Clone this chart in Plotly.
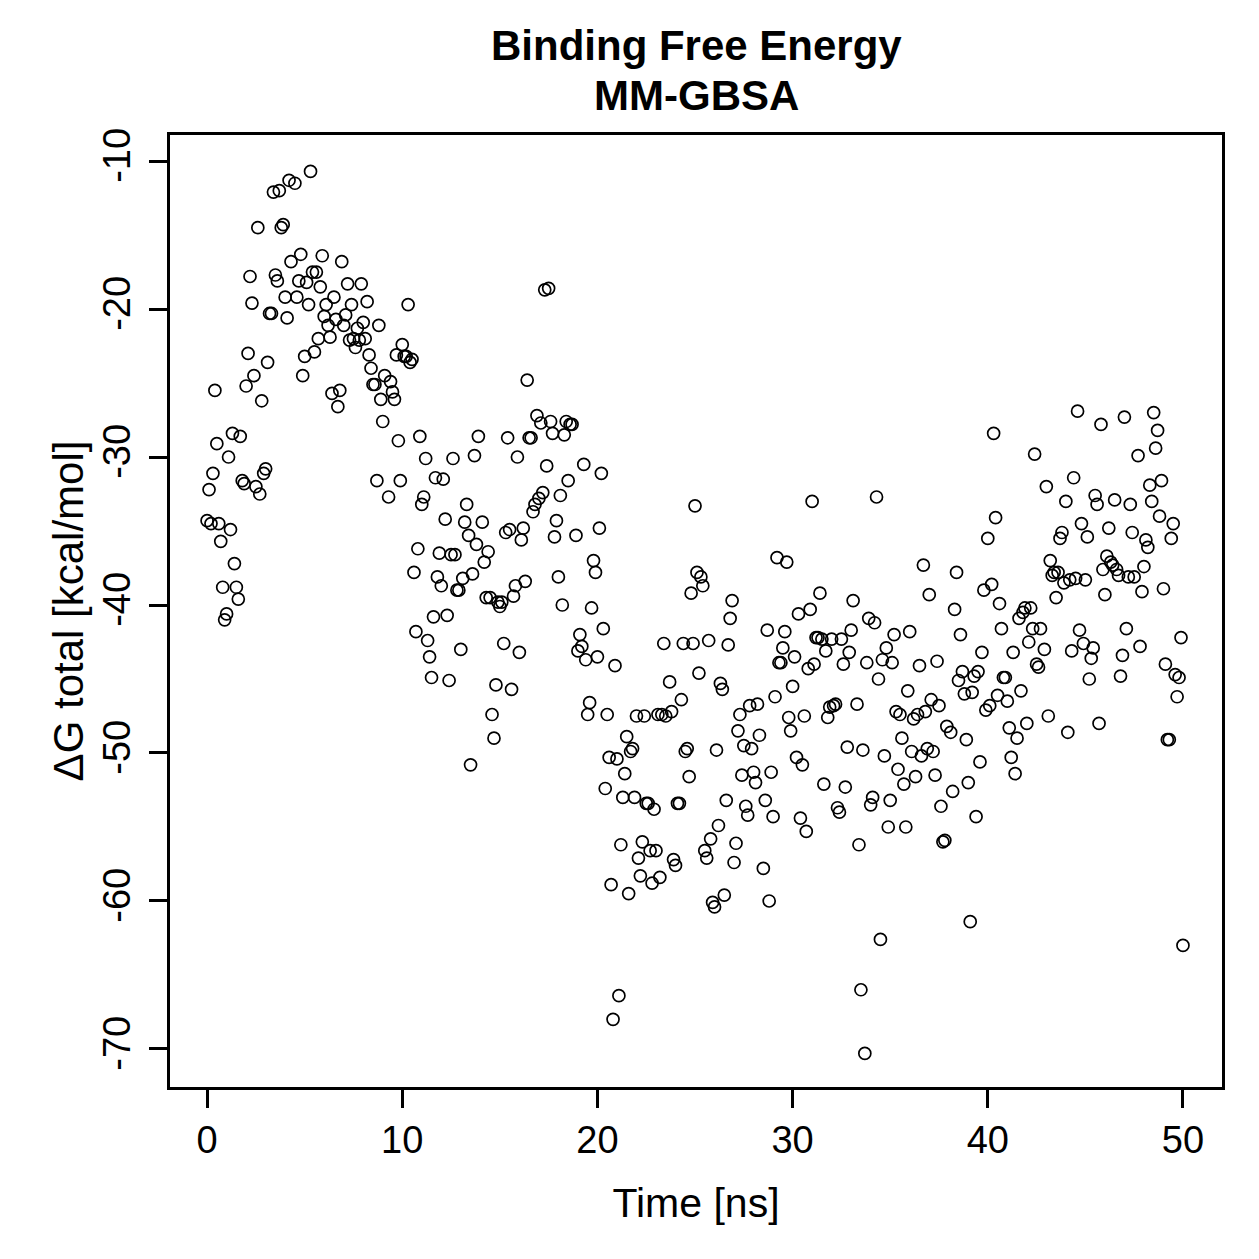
import plotly.graph_objects as go

time_ns = [
0.0,0.2,0.1,0.3,0.4,0.5,0.6,0.7,0.8,0.9,
1.0,1.1,1.2,1.3,1.4,1.5,1.6,1.7,1.8,1.9,
2.0,2.1,2.2,2.3,2.4,2.5,2.6,2.7,2.8,2.9,
3.0,3.1,3.2,3.3,3.4,3.5,3.6,3.7,3.8,3.9,
4.0,4.1,4.2,4.3,
4.5,4.6,4.7,4.8,4.9,5.0,5.1,5.2,5.3,5.4,5.5,5.6,5.7,5.8,5.9,
6.0,6.1,6.2,6.3,6.4,6.5,6.6,6.7,6.8,6.9,7.0,7.1,7.2,7.3,7.4,
7.5,7.6,7.7,7.8,7.9,8.0,8.1,8.2,8.3,8.4,8.5,8.6,8.7,8.8,8.9,9.0,9.1,
9.3,9.4,9.5,9.6,9.7,9.8,9.9,10.0,10.1,10.2,10.3,10.4,10.5,10.6,10.7,
10.8,10.9,11.0,11.1,11.2,11.3,11.4,11.5,11.6,11.7,11.8,11.9,12.0,12.1,12.2,
12.3,12.4,12.5,12.6,12.7,12.8,12.9,13.0,13.1,13.2,13.3,13.4,13.5,13.6,13.7,13.8,13.9,
14.1,14.2,14.3,14.4,14.5,14.6,14.7,14.8,14.9,15.0,15.1,15.2,15.3,15.4,15.5,
15.6,15.7,15.8,15.9,16.0,16.1,16.2,16.3,16.4,16.5,16.6,16.7,16.8,16.9,17.0,
17.1,17.2,17.3,17.4,17.5,17.6,17.7,17.8,17.9,18.0,18.1,18.2,18.3,18.4,18.5,18.6,18.7,
18.9,19.0,19.1,19.2,19.3,19.4,19.5,19.6,19.7,19.8,19.9,20.0,20.1,20.2,20.3,
20.4,20.5,20.6,20.7,20.8,20.9,21.0,21.1,21.2,21.3,21.4,21.5,21.6,21.7,21.8,
21.9,22.0,22.1,22.2,22.3,22.4,22.5,22.6,22.7,22.8,22.9,23.0,23.1,23.2,23.3,23.4,23.5,
23.7,23.8,23.9,24.0,24.1,24.2,24.3,24.4,24.5,24.6,24.7,24.8,24.9,25.0,25.1,
25.2,25.3,25.4,25.5,25.6,25.7,25.8,25.9,26.0,26.1,26.2,26.3,26.4,26.5,26.6,
26.7,26.8,26.9,27.0,27.1,27.2,27.3,27.4,27.5,27.6,27.7,27.8,27.9,28.0,28.1,28.2,28.3,
28.5,28.6,28.7,28.8,28.9,29.0,29.1,29.2,29.3,29.4,29.5,29.6,29.7,29.8,29.9,
30.0,30.1,30.2,30.3,30.4,30.5,30.6,30.7,30.8,30.9,31.0,31.1,31.2,31.3,31.4,
31.5,31.6,31.7,31.8,31.9,32.0,32.1,32.2,32.3,32.4,32.5,32.6,32.7,32.8,32.9,33.0,33.1,
33.3,33.4,33.5,33.6,33.7,33.8,33.9,34.0,34.1,34.2,34.3,34.4,34.5,34.6,34.7,
34.8,34.9,35.0,35.1,35.2,35.3,35.4,35.5,35.6,35.7,35.8,35.9,36.0,36.1,36.2,
36.3,36.4,36.5,36.6,36.7,36.8,36.9,37.0,37.1,37.2,37.3,37.4,37.5,37.6,37.7,37.8,37.9,
38.1,38.2,38.3,38.4,38.5,38.6,38.7,38.8,38.9,39.0,39.1,39.2,39.3,39.4,39.5,
39.6,39.7,39.8,39.9,40.0,40.1,40.2,40.3,40.4,40.5,40.6,40.7,40.8,40.9,41.0,
41.1,41.2,41.3,41.4,41.5,41.6,41.7,41.8,41.9,42.0,42.1,42.2,42.3,42.4,42.5,42.6,42.7,
42.9,43.0,43.1,43.2,43.3,43.4,43.5,43.6,43.7,43.8,43.9,44.0,44.1,44.2,44.3,
44.4,44.5,44.6,44.7,44.8,44.9,45.0,45.1,45.2,45.3,45.4,45.5,45.6,45.7,45.8,
45.9,46.0,46.1,46.2,46.3,46.4,46.5,46.6,46.7,46.8,46.9,47.0,47.1,47.2,47.3,47.4,47.5,
47.7,47.8,47.9,48.0,48.1,48.2,48.3,48.4,48.5,48.6,48.7,48.8,48.9,49.0,49.1,
49.2,49.3,49.4,49.5,49.6,49.7,49.8,49.9,50.0,
]

dg_total = [
-34.3,-34.5,-32.2,-31.1,-25.5,-29.1,-34.5,-35.7,-38.8,-41.0,
-40.6,-30.0,-34.9,-28.4,-37.2,-38.8,-39.6,-28.6,-31.6,-31.8,
-25.2,-23.0,-17.8,-19.6,-24.5,-32.0,-14.5,-32.5,-26.2,-31.1,
-30.8,-23.6,-20.3,-20.3,-12.1,-17.7,-18.1,-12.0,-14.5,-14.3,
-19.2,-20.6,-11.3,-16.8,
-11.5,-19.2,-18.1,-16.3,-24.5,-23.2,-18.2,-19.7,-10.7,-17.5,-22.9,-17.5,-22.0,-18.5,-16.4,
-20.5,-19.7,-21.1,-21.9,-25.7,-19.2,-20.7,-26.6,-25.5,-16.8,-21.1,-20.4,-18.3,-22.1,-19.7,
-22.0,-22.6,-21.3,-22.1,-18.3,-20.9,-22.0,-19.5,-23.1,-24.0,-25.1,-25.1,-31.6,-21.1,-26.1,-27.6,-24.5,
-32.7,-24.9,-25.6,-26.1,-23.1,-28.9,-31.6,-22.4,-23.2,-23.2,-19.7,-23.6,-23.4,-37.8,-41.8,
-36.2,-28.6,-33.2,-32.7,-30.1,-42.4,-43.5,-44.9,-40.8,-31.4,-38.1,-36.5,-38.7,-31.5,-34.2,
-40.7,-45.1,-36.6,-30.1,-36.6,-39.0,-39.0,-43.0,-38.2,-34.4,-33.2,-35.3,-50.8,-37.9,-29.9,-35.9,-28.6,
-34.4,-37.1,-39.5,-36.4,-39.5,-47.4,-49.0,-45.4,-39.8,-40.1,-39.8,-42.6,-35.1,-28.7,-34.9,
-45.7,-39.4,-38.7,-30.0,-43.2,-35.6,-34.8,-38.4,-24.8,-28.7,-28.7,-33.7,-33.2,-27.2,-32.8,
-27.7,-32.4,-18.7,-30.6,-18.6,-27.6,-28.4,-35.4,-34.3,-38.1,-32.6,-40.0,-28.5,-27.6,-31.6,-27.8,-27.8,
-35.3,-43.1,-42.0,-42.8,-30.5,-43.7,-47.4,-46.6,-40.2,-37.0,-37.8,-43.5,-34.8,-31.1,-41.6,
-52.4,-47.4,-50.3,-58.9,-68.0,-44.1,-50.4,-66.4,-56.2,-53.0,-51.4,-48.9,-59.5,-49.9,-49.7,
-53.0,-47.5,-57.1,-58.3,-56.0,-47.5,-53.4,-53.4,-56.6,-58.8,-53.8,-56.6,-47.4,-58.4,-47.4,-42.6,-47.5,
-45.2,-47.2,-57.2,-57.6,-53.4,-53.4,-46.4,-42.6,-49.9,-49.7,-51.6,-39.2,-42.6,-33.3,-37.8,
-44.6,-38.1,-38.7,-56.6,-57.1,-42.4,-55.8,-60.1,-60.4,-49.8,-54.9,-45.3,-45.7,-59.6,-53.2,
-42.7,-40.9,-39.7,-57.4,-56.1,-48.5,-47.4,-51.5,-49.5,-53.6,-54.2,-46.8,-49.7,-51.3,-52.0,-46.7,-48.8,
-57.8,-53.2,-41.7,-60.0,-51.3,-54.3,-46.2,-36.8,-43.9,-43.9,-42.9,-41.8,-37.1,-47.6,-48.5,
-45.5,-43.5,-50.3,-40.6,-54.4,-50.8,-47.5,-55.3,-44.3,-40.3,-33.0,-44.0,-42.2,-42.2,-39.2,
-42.3,-52.1,-43.1,-47.6,-46.9,-42.3,-46.8,-46.7,-53.7,-54.0,-42.3,-44.0,-52.3,-49.6,-43.2,-41.7,-39.7,
-46.7,-56.2,-66.0,-49.8,-70.3,-43.9,-40.9,-53.5,-53.0,-41.2,-32.7,-45.0,-62.6,-43.7,-50.2,
-42.9,-55.0,-53.2,-43.9,-42.0,-47.2,-51.1,-47.4,-49.0,-52.1,-55.0,-45.8,-41.8,-49.9,-47.7,
-51.6,-47.4,-44.1,-50.2,-37.3,-47.2,-49.7,-39.3,-46.4,-49.9,-51.5,-43.8,-46.8,-53.6,-56.0,-55.9,-48.2,
-48.6,-52.6,-40.3,-37.8,-45.1,-42.0,-44.5,-46.0,-49.1,-52.0,-61.4,-45.9,-44.8,-54.3,-44.5,
-50.6,-43.2,-39.0,-47.1,-35.5,-46.8,-38.6,-28.4,-34.1,-46.1,-39.9,-41.6,-44.9,-44.9,-46.5,
-48.3,-50.3,-43.2,-51.4,-49.0,-40.9,-45.8,-40.5,-40.2,-48.0,-42.5,-40.2,-41.6,-29.8,-44.0,-44.2,-41.6,
-43.0,-32.0,-47.5,-37.0,-38.0,-37.8,-39.5,-37.8,-35.5,-35.1,-38.5,-33.0,-48.6,-38.3,-43.1,
-31.4,-38.2,-26.9,-41.7,-34.5,-42.6,-38.3,-35.4,-45.0,-43.6,-42.9,-32.6,-33.2,-48.0,-27.8,
-37.6,-39.3,-36.7,-34.8,-37.1,-37.3,-32.9,-37.6,-38.0,-44.8,-43.4,-27.3,-41.6,-38.1,-33.2,-35.1,-38.1,
-29.9,-42.8,-39.1,-37.4,-35.6,-36.1,-31.9,-33.0,-27.0,-29.4,-28.2,-34.0,-31.6,-38.9,-44.0,
-49.1,-49.1,-35.5,-34.5,-44.7,-46.2,-44.9,-42.2,-63.0,
]

x_ticks = [0, 10, 20, 30, 40, 50]
y_ticks = [-70, -60, -50, -40, -30, -20, -10]
title_lines = ["Binding Free Energy", "MM-GBSA"]

FONT = "Liberation Sans, Arial, Helvetica, sans-serif"

fig = go.Figure()
fig.add_trace(go.Scatter(
    x=time_ns, y=dg_total, mode="markers",
    marker=dict(symbol="circle-open", size=12, color="black", line=dict(width=1.7, color="black")),
    showlegend=False, hoverinfo="x+y",
))

fig.update_layout(
    width=1259, height=1259,
    paper_bgcolor="white", plot_bgcolor="white",
    margin=dict(l=170, r=37, t=135, b=172),
    font=dict(family=FONT, size=38, color="black"),
)
for line_text, ypos in zip(title_lines, [1.0945, 1.042]):
    fig.add_annotation(
        text="<b>" + line_text + "</b>", xref="paper", yref="paper",
        x=0.5, y=ypos, xanchor="center", yanchor="middle", showarrow=False,
        font=dict(family=FONT, size=42, color="black"),
    )

fig.update_xaxes(
    range=[-1.9, 52.0], tickvals=x_ticks, ticktext=[str(v) for v in x_ticks],
    showgrid=False, zeroline=False, showline=True, mirror=True, linecolor="black", linewidth=2.5,
    ticks="outside", ticklen=18, tickwidth=2.5, tickcolor="black",
    tickfont=dict(family=FONT, size=38),
    title=dict(text="Time [ns]", font=dict(family=FONT, size=41), standoff=28),
)
fig.update_yaxes(
    range=[-72.57, -8.24], tickvals=y_ticks, ticktext=[str(v) for v in y_ticks],
    tickangle=-90, ticklabelstandoff=4,
    showgrid=False, zeroline=False, showline=True, mirror=True, linecolor="black", linewidth=2.5,
    ticks="outside", ticklen=18, tickwidth=2.5, tickcolor="black",
    tickfont=dict(family=FONT, size=38),
    title=dict(text="ΔG total [kcal/mol]", font=dict(family=FONT, size=42), standoff=0),
)

fig.write_html("out.html")
